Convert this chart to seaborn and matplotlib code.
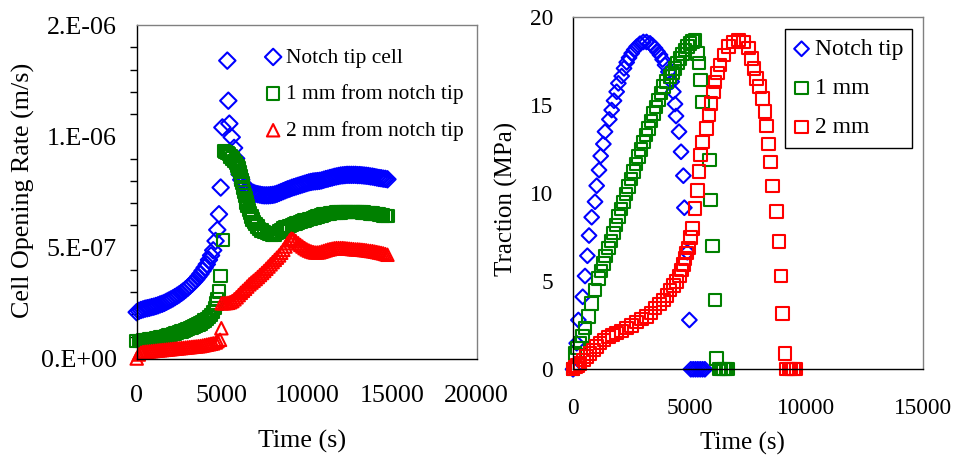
import numpy as np
import matplotlib
matplotlib.use('Agg')
import matplotlib.pyplot as plt
import seaborn as sns

# ---- left panel: cell opening rate (values in 1e-7 m/s) ----
tip_t = [0, 125, 250, 375, 500, 625, 750, 875, 1000, 1125,
         1250, 1375, 1500, 1625, 1750, 1875, 2000, 2125, 2250, 2375,
         2500, 2625, 2750, 2875, 3000, 3125, 3250, 3375, 3500, 3625,
         3750, 3875, 4000, 4125, 4250, 4375, 4500, 4640, 4740, 4840,
         4940, 5040, 5330, 5390, 5450, 5590, 5730, 5850, 5950, 6050,
         6150, 6250, 6375, 6500, 6625, 6750, 6875, 7000, 7125, 7250,
         7375, 7500, 7625, 7750, 7875, 8000, 8125, 8250, 8375, 8500,
         8625, 8750, 8875, 9000, 9125, 9250, 9375, 9500, 9625, 9750,
         9875, 10000, 10125, 10250, 10375, 10500, 10625, 10750, 10875, 11000,
         11125, 11250, 11375, 11500, 11625, 11750, 11875, 12000, 12125, 12250,
         12375, 12500, 12625, 12750, 12875, 13000, 13125, 13250, 13375, 13500,
         13625, 13750, 13875, 14000, 14125, 14250, 14375, 14500, 14625, 14750]
tip_rate = [2.1, 2.16, 2.2, 2.23, 2.26, 2.28, 2.3, 2.33, 2.35, 2.38,
            2.41, 2.45, 2.48, 2.52, 2.57, 2.62, 2.67, 2.72, 2.78, 2.84,
            2.9, 2.97, 3.04, 3.12, 3.2, 3.29, 3.38, 3.48, 3.58, 3.7,
            3.82, 3.96, 4.1, 4.25, 4.45, 4.65, 4.88, 5.3, 5.8, 6.5,
            7.7, 10.4, 13.4, 11.6, 10.57, 9.96, 9.48, 9.0, 8.6, 8.3,
            8.05, 7.88, 7.75, 7.65, 7.56, 7.5, 7.46, 7.42, 7.4, 7.38,
            7.36, 7.35, 7.35, 7.35, 7.36, 7.37, 7.39, 7.42, 7.46, 7.5,
            7.54, 7.58, 7.62, 7.65, 7.69, 7.72, 7.75, 7.78, 7.81, 7.84,
            7.87, 7.9, 7.93, 7.95, 7.97, 7.98, 7.99, 8.0, 8.02, 8.05,
            8.08, 8.1, 8.13, 8.15, 8.18, 8.2, 8.22, 8.24, 8.25, 8.26,
            8.27, 8.27, 8.27, 8.27, 8.27, 8.26, 8.26, 8.25, 8.24, 8.23,
            8.22, 8.2, 8.19, 8.17, 8.15, 8.13, 8.12, 8.1, 8.09, 8.07]

mm1_t = [0, 125, 250, 375, 500, 625, 750, 875, 1000, 1125,
         1250, 1375, 1500, 1625, 1750, 1875, 2000, 2125, 2250, 2375,
         2500, 2625, 2750, 2875, 3000, 3125, 3250, 3375, 3500, 3625,
         3750, 3875, 4000, 4125, 4250, 4375, 4500, 4600, 4700, 4740,
         4840, 4940, 5090, 5140, 5230, 5330, 5430, 5530, 5630, 5730,
         5830, 5920, 6000, 6060, 6120, 6170, 6220, 6270, 6320, 6370,
         6420, 6470, 6520, 6600, 6670, 6750, 6820, 6900, 7000, 7100,
         7210, 7350, 7500, 7650, 7800, 7950, 8100, 8250, 8390, 8500,
         8625, 8750, 8875, 9000, 9125, 9250, 9375, 9500, 9625, 9750,
         9875, 10000, 10125, 10250, 10375, 10500, 10625, 10750, 10875, 11000,
         11125, 11250, 11375, 11500, 11625, 11750, 11875, 12000, 12125, 12250,
         12375, 12500, 12625, 12750, 12875, 13000, 13125, 13250, 13375, 13500,
         13625, 13750, 13875, 14000, 14125, 14250, 14375, 14500, 14625, 14750]
mm1_rate = [0.8, 0.81, 0.82, 0.83, 0.84, 0.86, 0.87, 0.88, 0.9, 0.92,
            0.94, 0.96, 0.98, 1.0, 1.02, 1.05, 1.08, 1.11, 1.14, 1.17,
            1.2, 1.23, 1.26, 1.3, 1.34, 1.38, 1.42, 1.46, 1.5, 1.55,
            1.6, 1.66, 1.72, 1.8, 1.88, 1.98, 2.1, 2.3, 2.5, 2.7,
            3.03, 3.73, 5.35, 9.33, 9.3, 9.25, 9.2, 9.1, 9.0, 8.9,
            8.8, 8.68, 8.55, 8.4, 8.2, 8.05, 7.9, 7.7, 7.5, 7.35,
            7.2, 7.03, 6.86, 6.7, 6.55, 6.4, 6.26, 6.15, 6.05, 5.95,
            5.85, 5.77, 5.7, 5.65, 5.62, 5.6, 5.6, 5.65, 5.73, 5.8,
            5.86, 5.9, 5.94, 5.98, 6.02, 6.05, 6.08, 6.12, 6.16, 6.2,
            6.22, 6.25, 6.28, 6.3, 6.33, 6.36, 6.39, 6.42, 6.45, 6.48,
            6.5, 6.52, 6.54, 6.55, 6.56, 6.57, 6.58, 6.58, 6.59, 6.6,
            6.6, 6.6, 6.6, 6.6, 6.6, 6.6, 6.59, 6.58, 6.57, 6.56,
            6.55, 6.54, 6.53, 6.52, 6.5, 6.48, 6.47, 6.45, 6.43, 6.42]

mm2_t = [0, 125, 250, 375, 500, 625, 750, 875, 1000, 1125,
         1250, 1375, 1500, 1625, 1750, 1875, 2000, 2125, 2250, 2375,
         2500, 2625, 2750, 2875, 3000, 3125, 3250, 3375, 3500, 3625,
         3750, 3875, 4000, 4125, 4250, 4375, 4500, 4650, 4750, 4900,
         4980, 5000, 5125, 5250, 5375, 5500, 5625, 5750, 5875, 6000,
         6125, 6250, 6375, 6500, 6625, 6750, 6875, 7000, 7125, 7250,
         7375, 7500, 7625, 7750, 7875, 8000, 8125, 8250, 8375, 8500,
         8625, 8750, 8875, 9000, 9100, 9200, 9350, 9500, 9625, 9750,
         9875, 10000, 10125, 10250, 10375, 10500, 10625, 10750, 10875, 11000,
         11125, 11250, 11375, 11500, 11625, 11750, 11875, 12000, 12125, 12250,
         12375, 12500, 12625, 12750, 12875, 13000, 13125, 13250, 13375, 13500,
         13625, 13750, 13875, 14000, 14125, 14250, 14375, 14500, 14625, 14750]
mm2_rate = [0.02, 0.2, 0.28, 0.31, 0.32, 0.33, 0.34, 0.35, 0.36, 0.37,
            0.38, 0.39, 0.4, 0.41, 0.42, 0.43, 0.44, 0.45, 0.46, 0.47,
            0.48, 0.49, 0.5, 0.51, 0.52, 0.53, 0.54, 0.55, 0.56, 0.57,
            0.58, 0.6, 0.62, 0.64, 0.66, 0.68, 0.7, 0.74, 0.8, 0.86,
            1.38, 2.5, 2.5, 2.51, 2.52, 2.55, 2.6, 2.68, 2.77, 2.87,
            2.97, 3.06, 3.15, 3.25, 3.35, 3.43, 3.51, 3.59, 3.68, 3.77,
            3.86, 3.95, 4.05, 4.15, 4.25, 4.35, 4.45, 4.55, 4.65, 4.77,
            4.9, 5.05, 5.2, 5.33, 5.4, 5.38, 5.3, 5.2, 5.12, 5.05,
            4.98, 4.92, 4.87, 4.83, 4.8, 4.78, 4.78, 4.79, 4.82, 4.85,
            4.88, 4.91, 4.93, 4.95, 4.97, 4.98, 4.98, 4.98, 4.98, 4.97,
            4.96, 4.95, 4.94, 4.93, 4.92, 4.92, 4.91, 4.9, 4.89, 4.88,
            4.86, 4.85, 4.84, 4.82, 4.8, 4.78, 4.76, 4.74, 4.71, 4.68]

rate_ticks = [0, 5e-7, 1e-6, 1.5e-6]
rate_ticklabels = ['0.E+00', '5.E-07', '1.E-06', '2.E-06']

# ---- right panel: traction (MPa) ----
notch_t = [0, 157, 229, 415, 515, 615, 686, 800, 943, 1014, 1114, 1186, 1300, 1371, 1557, 1657, 1757,
           1871, 1943, 2086, 2186, 2300, 2400, 2514, 2620, 2729, 2870, 3014, 3150, 3300, 3400, 3514,
           3620, 3729, 3840, 3943, 4086, 4229, 4300, 4371, 4414, 4543, 4629, 4729, 4771, 4900, 4986,
           5050, 5150, 5250, 5350, 5450, 5550, 5650]
notch_trac = [0, 1.48, 2.8, 4.12, 5.3, 6.45, 7.6, 8.64, 9.52, 10.43, 11.32, 12.12, 12.8, 13.5, 14.2, 14.73,
              15.26, 15.77, 16.25, 16.66, 17.1, 17.44, 17.7, 17.95, 18.15, 18.33, 18.5, 18.6, 18.6, 18.52,
              18.4, 18.24, 18.05, 17.86, 17.6, 17.29, 16.9, 16.34, 15.77, 15.07, 14.39, 13.5, 12.36, 11.0,
              9.18, 6.65, 2.8, 0, 0, 0, 0, 0, 0, 0]

one_t = [0, 86, 200, 300, 400, 514, 657, 800, 943, 1086, 1200, 1300, 1400, 1514, 1620, 1729, 1830, 1943,
         2050, 2157, 2260, 2371, 2480, 2586, 2690, 2800, 2910, 3014, 3120, 3229, 3340, 3443, 3550, 3657,
         3760, 3871, 4000, 4157, 4260, 4371, 4480, 4586, 4700, 4800, 4910, 5014, 5120, 5229, 5329, 5400,
         5471, 5543, 5843, 5900, 5986, 6086, 6157, 6250, 6350, 6450, 6550, 6650]
one_trac = [0, 0.9, 1.2, 1.48, 1.9, 2.33, 3.0, 3.75, 4.5, 5.17, 5.6, 6.02, 6.45, 6.88, 7.3, 7.73, 8.2, 8.67,
            9.1, 9.52, 9.95, 10.38, 10.8, 11.23, 11.65, 12.08, 12.5, 12.93, 13.3, 13.69, 14.1, 14.54, 14.9,
            15.3, 15.7, 16.06, 16.35, 16.63, 16.85, 17.1, 17.4, 17.67, 17.9, 18.14, 18.35, 18.52, 18.62,
            18.71, 17.95, 17.39, 16.44, 15.2, 11.89, 9.62, 7.0, 3.94, 0.62, 0, 0, 0, 0, 0]

two_t = [0, 100, 200, 300, 450, 586, 730, 871, 1010, 1157, 1330, 1514, 1700, 1871, 2080, 2300, 2510, 2729,
         2940, 3157, 3340, 3514, 3700, 3871, 4020, 4157, 4300, 4443, 4560, 4657, 4730, 4800, 4870, 4943,
         5040, 5129, 5229, 5329, 5400, 5471, 5557, 5729, 5829, 5914, 6014, 6086, 6186, 6300, 6471, 6657,
         6871, 7086, 7300, 7514, 7657, 7757, 7871, 7986, 8129, 8229, 8300, 8371, 8471, 8557, 8729, 8829,
         8914, 8986, 9086, 9150, 9250, 9350, 9450, 9550]
two_trac = [0, 0.12, 0.22, 0.34, 0.52, 0.72, 0.9, 1.1, 1.3, 1.48, 1.68, 1.85, 1.95, 2.05, 2.18, 2.33, 2.5,
            2.7, 2.85, 2.99, 3.2, 3.47, 3.7, 3.94, 4.2, 4.5, 4.75, 4.98, 5.3, 5.64, 5.95, 6.3, 6.6, 6.88,
            7.5, 8.0, 9.13, 10.17, 11.23, 12.17, 12.93, 13.69, 14.45, 15.11, 15.77, 16.34, 16.82, 17.29,
            17.86, 18.33, 18.61, 18.71, 18.61, 18.24, 17.67, 17.1, 16.53, 16.06, 15.39, 14.64, 13.82,
            12.8, 11.78, 10.43, 8.96, 7.25, 5.3, 3.18, 0.9, 0, 0, 0, 0, 0]

sns.set_theme(style='white')
plt.rcParams['font.family'] = ['Liberation Serif', 'DejaVu Serif']
plt.rcParams['text.color'] = 'black'
plt.rcParams['axes.labelcolor'] = 'black'
plt.rcParams['xtick.color'] = 'black'
plt.rcParams['ytick.color'] = 'black'

BLUE, GREEN, RED = '#0000ff', '#008000', '#ff0000'

fig = plt.figure(figsize=(9.56, 4.58), dpi=100)
ax1 = fig.add_axes([0.143, 0.2162, 0.3556, 0.7292])
ax2 = fig.add_axes([0.5994, 0.1937, 0.3661, 0.7685])

# left panel
sns.scatterplot(x=tip_t, y=np.array(tip_rate) * 1e-7, ax=ax1, marker='D', s=70, facecolor='none',
                edgecolor=BLUE, linewidth=1.5, label='Notch tip cell')
sns.scatterplot(x=mm1_t, y=np.array(mm1_rate) * 1e-7, ax=ax1, marker='s', s=80, facecolor='none',
                edgecolor=GREEN, linewidth=1.5, label='1 mm from notch tip')
sns.scatterplot(x=mm2_t, y=np.array(mm2_rate) * 1e-7, ax=ax1, marker='^', s=80, facecolor='none',
                edgecolor=RED, linewidth=1.5, label='2 mm from notch tip')
ax1.set_xlim(0, 20000)
ax1.set_ylim(0, 1.5e-6)
ax1.set_xticks([0, 5000, 10000, 15000, 20000])
ax1.set_yticks(rate_ticks)
ax1.set_yticklabels(rate_ticklabels)
ax1.set_yticks(np.arange(1e-7, 1.5e-6, 1e-7), minor=True)
ax1.tick_params(axis='both', which='major', direction='inout', length=11.5, width=1.0,
                labelsize=18.7, colors='black')
ax1.tick_params(axis='x', pad=13)
ax1.tick_params(axis='y', pad=8.5)
ax1.tick_params(axis='y', which='minor', direction='out', length=5, width=1.0, left=True, color='black')
ax1.set_xlabel('Time (s)', fontsize=18.7)
ax1.set_ylabel('Cell Opening Rate (m/s)', fontsize=18.7)
ax1.xaxis.set_label_coords(0.4876, -0.2126)
ax1.yaxis.set_label_coords(-0.299, 0.5036)
ax1.legend(loc='upper left', bbox_to_anchor=(0.351, 0.958), frameon=False, fontsize=15.4,
           handlelength=0.8, handletextpad=0.2, labelspacing=0.78, borderpad=0.4, borderaxespad=0)

# right panel
sns.scatterplot(x=notch_t, y=notch_trac, ax=ax2, marker='D', s=56, facecolor='none',
                edgecolor=BLUE, linewidth=1.5, label='Notch tip')
sns.scatterplot(x=one_t, y=one_trac, ax=ax2, marker='s', s=80, facecolor='none',
                edgecolor=GREEN, linewidth=1.5, label='1 mm')
sns.scatterplot(x=two_t, y=two_trac, ax=ax2, marker='s', s=80, facecolor='none',
                edgecolor=RED, linewidth=1.5, label='2 mm')
ax2.set_xlim(0, 15000)
ax2.set_ylim(0, 20)
ax2.set_xticks([0, 5000, 10000, 15000])
ax2.set_yticks([0, 5, 10, 15, 20])
ax2.tick_params(axis='both', which='major', direction='inout', length=11, width=1.0,
                labelsize=16.8, colors='black')
ax2.tick_params(axis='x', pad=15.2)
ax2.tick_params(axis='y', pad=9)
ax2.set_xlabel('Time (s)', fontsize=18)
ax2.set_ylabel('Traction (MPa)', fontsize=18)
ax2.xaxis.set_label_coords(0.4843, -0.1773)
ax2.yaxis.set_label_coords(-0.156, 0.485)
leg = ax2.legend(loc='upper left', bbox_to_anchor=(0.6057, 0.9668), frameon=True, fancybox=False,
                 fontsize=17, handlelength=0.6, handletextpad=0.25, labelspacing=0.75, borderpad=0.4,
                 borderaxespad=0, framealpha=1, edgecolor='black')
leg.get_frame().set_linewidth(1.0)

for ax in (ax1, ax2):
    for side in ('left', 'bottom'):
        ax.spines[side].set_color('black')
        ax.spines[side].set_linewidth(1.0)
    for side in ('top', 'right'):
        ax.spines[side].set_color('#808080')
        ax.spines[side].set_linewidth(1.0)
    for c in ax.collections:
        c.set_clip_on(False)

fig.savefig('out.png', dpi=100)
